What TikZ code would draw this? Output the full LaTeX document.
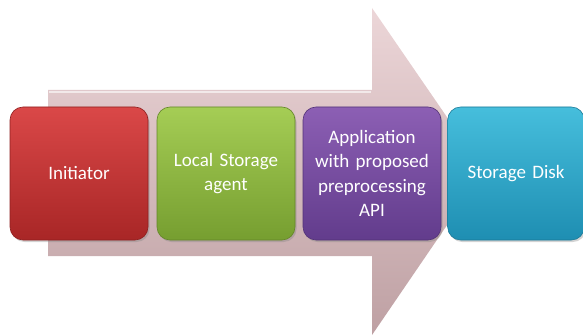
\documentclass[tikz,border=0pt]{standalone}
\usepackage{fontspec}
\setmainfont{Carlito}
\usetikzlibrary{shadows}
\definecolor{arrTop}{RGB}{236,214,216}
\definecolor{arrBot}{RGB}{190,160,163}
\definecolor{redT}{RGB}{218,72,72}
\definecolor{redB}{RGB}{168,38,38}
\definecolor{grnT}{RGB}{165,205,85}
\definecolor{grnB}{RGB}{118,158,48}
\definecolor{purT}{RGB}{140,95,180}
\definecolor{purB}{RGB}{98,60,140}
\definecolor{tealT}{RGB}{70,190,220}
\definecolor{tealB}{RGB}{30,142,178}
\tikzset{
  stagebox/.style={rounded corners=13pt, minimum width=138pt, minimum height=133pt,
    text width=130pt, align=center, text=white, font=\fontsize{19}{24.5}\selectfont,
    line width=0.6pt,
    drop shadow={shadow xshift=1.5pt, shadow yshift=-2pt, opacity=0.35}},
}
\begin{document}
\begin{tikzpicture}[x=1pt,y=1pt]
\useasboundingbox (0,0) rectangle (583,335);
% big arrow
\shade[top color=arrTop, bottom color=arrBot]
  (48,245) -- (372,245) -- (372,327) -- (484,164) -- (372,0) -- (372,79) -- (48,79) -- cycle;
\draw[white, opacity=0.6, line width=1.5pt] (49,243) -- (371,243);
% boxes
\node[stagebox, draw=redB!85!black, top color=redT, bottom color=redB] (init) at (79,161.5) {Initiator};
\node[stagebox, draw=grnB!85!black, top color=grnT, bottom color=grnB] (local) at (226,161.5) {Local Storage\\agent};
\node[stagebox, draw=purB!85!black, top color=purT, bottom color=purB] (app) at (372,161.5) {Application\\with proposed\\preprocessing\\API};
\node[stagebox, draw=tealB!85!black, top color=tealT, bottom color=tealB, minimum width=136pt] (disk) at (516,161.5) {Storage Disk};
\end{tikzpicture}
\end{document}
